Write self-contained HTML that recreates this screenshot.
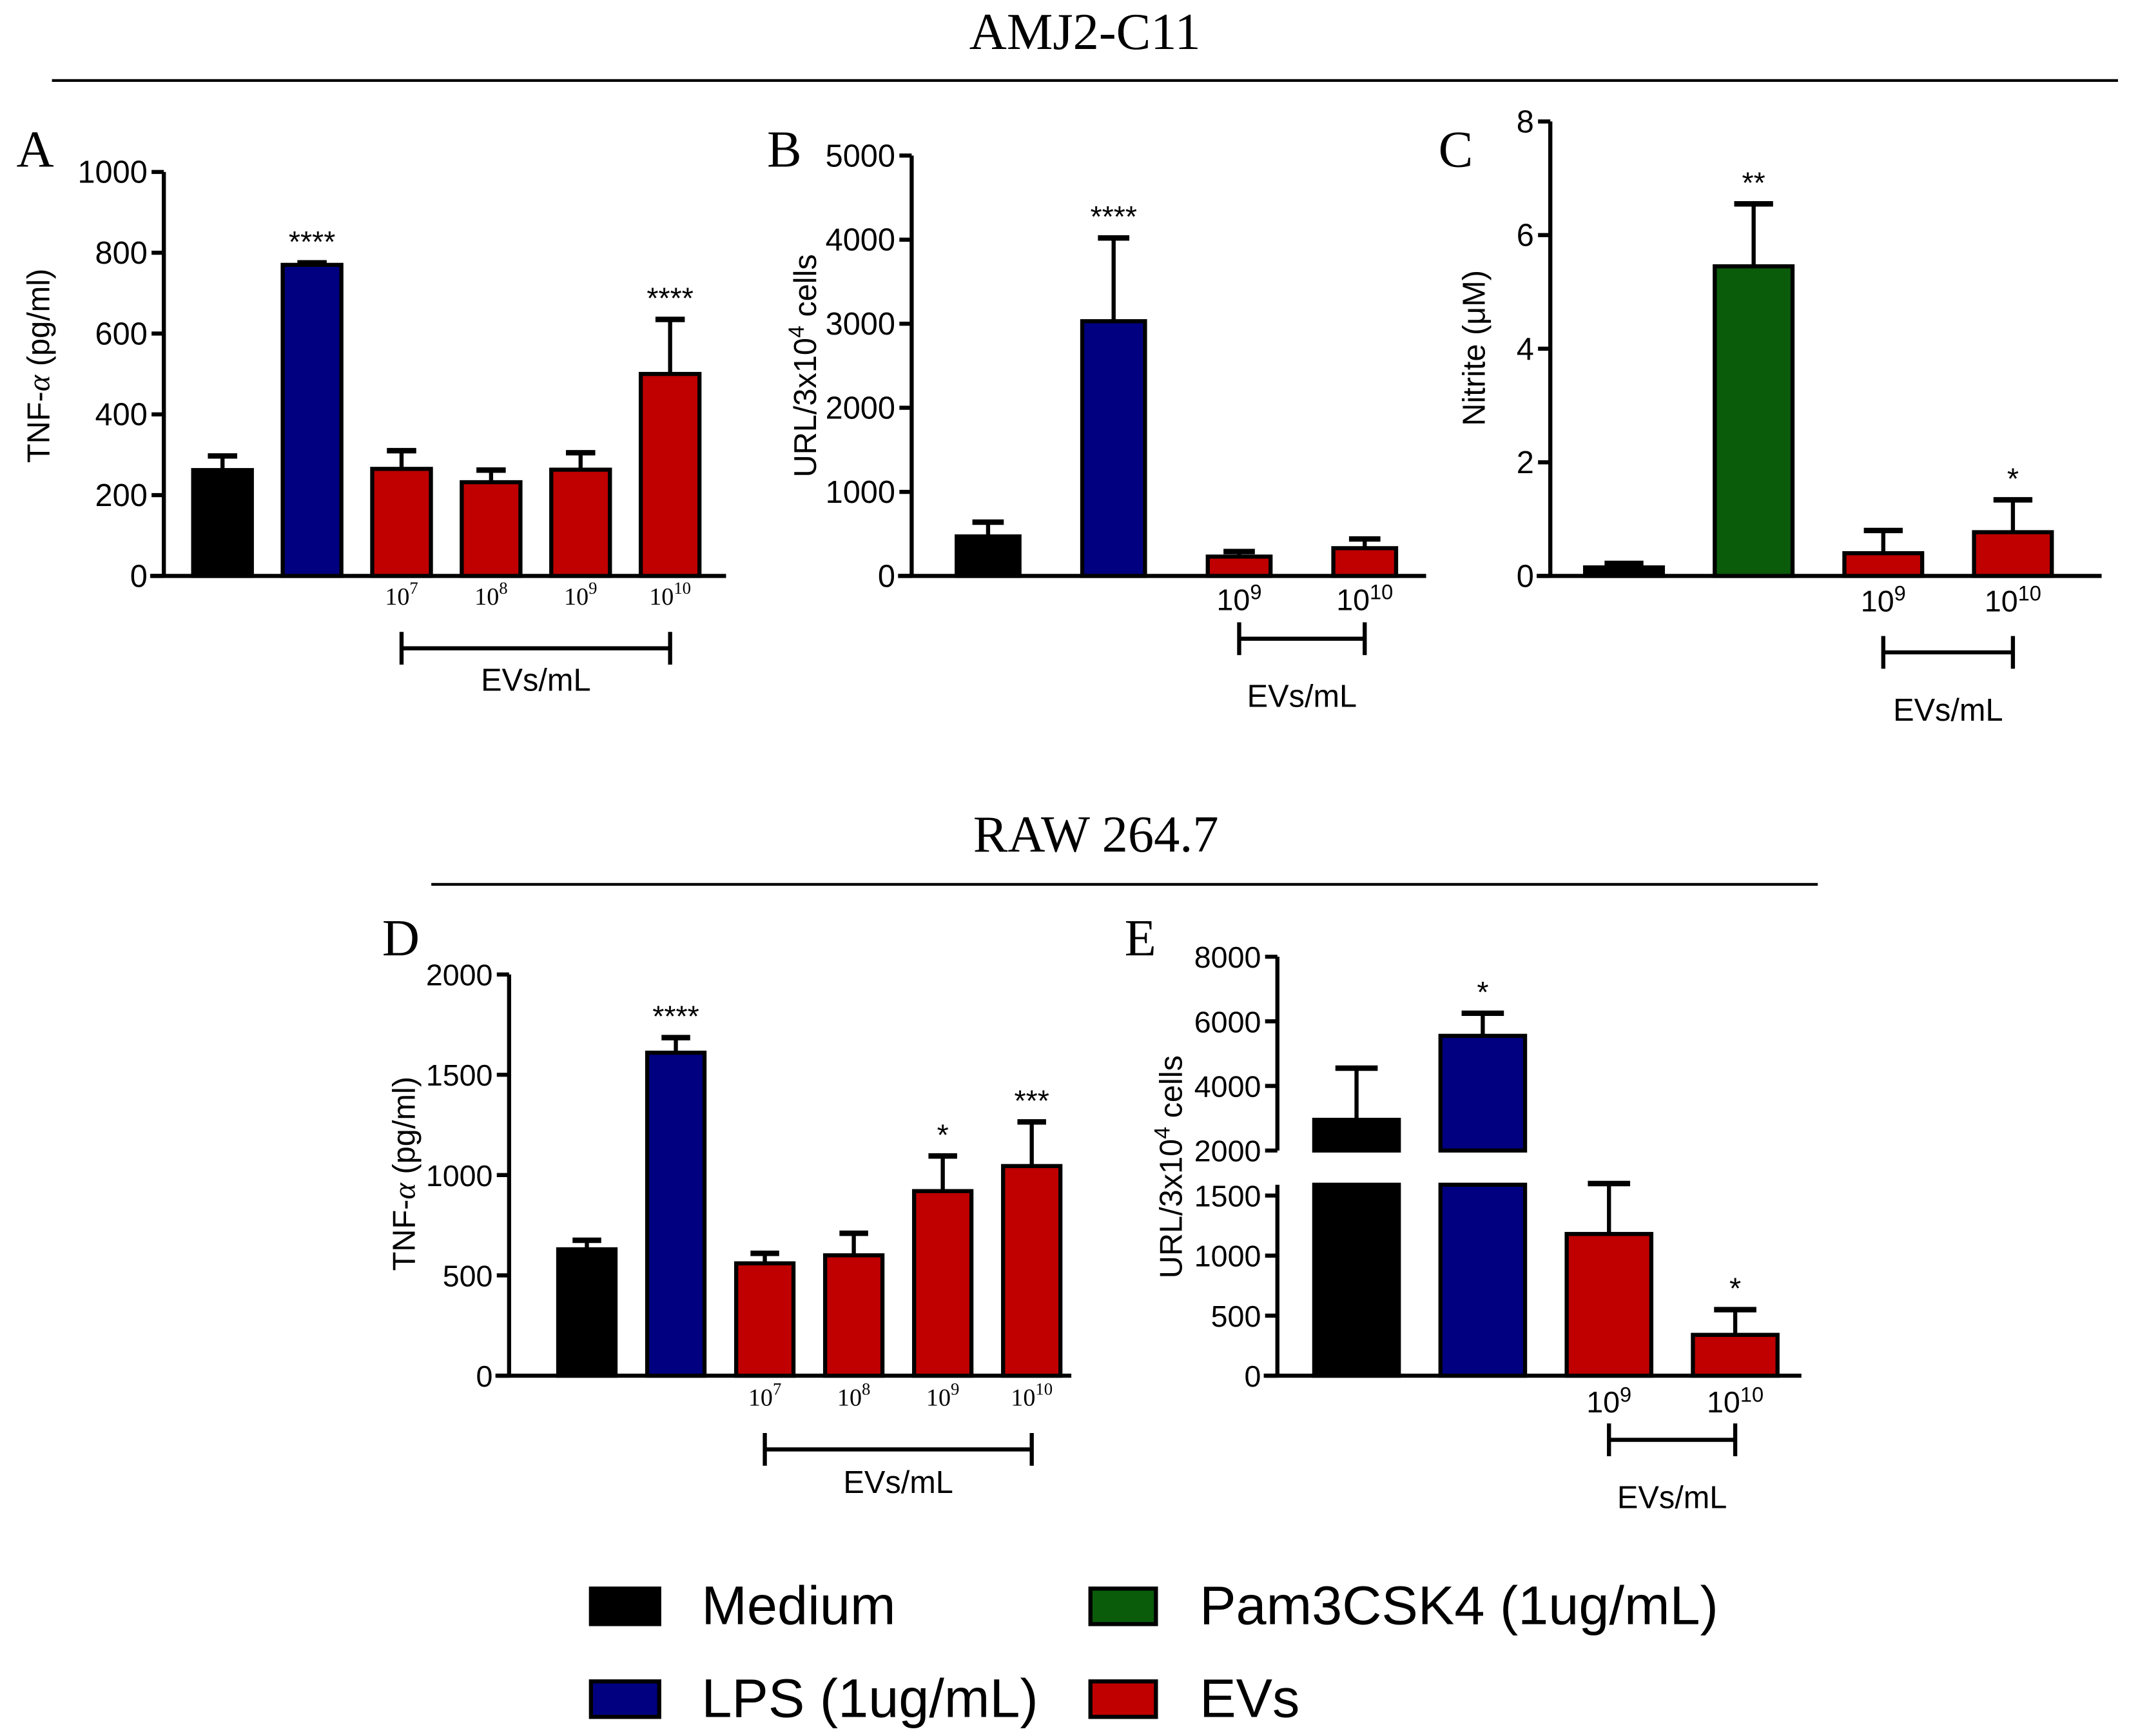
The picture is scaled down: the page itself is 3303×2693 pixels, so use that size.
<!DOCTYPE html>
<html><head><meta charset="utf-8"><style>
html,body{margin:0;padding:0;background:#fff}
svg{display:block}
text{font-family:"Liberation Sans",Arial,sans-serif}
.serif{font-family:"Liberation Serif","Times New Roman",serif}
</style></head><body>
<svg id="fig" xmlns="http://www.w3.org/2000/svg" width="3303" height="2693" viewBox="0 0 1560 1272">
<text class="serif" x="795" y="36" font-size="38" text-anchor="middle">AMJ2-C11</text>
<line x1="38" y1="59" x2="1552" y2="59" stroke="#000" stroke-width="2"/>
<text class="serif" x="803" y="624" font-size="38" text-anchor="middle">RAW 264.7</text>
<line x1="316" y1="648" x2="1332" y2="648" stroke="#000" stroke-width="2"/>
<text class="serif" x="12" y="122" font-size="38">A</text>
<text class="serif" x="562" y="122" font-size="38">B</text>
<text class="serif" x="1054" y="122" font-size="38">C</text>
<text class="serif" x="280" y="700" font-size="38">D</text>
<text class="serif" x="824" y="700" font-size="38">E</text>
<g>
<rect x="433" y="1164" width="50" height="26" fill="#000" stroke="#000" stroke-width="3"/>
<text x="514" y="1190" font-size="40">Medium</text>
<rect x="799" y="1164" width="48" height="26" fill="#0a5c0a" stroke="#000" stroke-width="3"/>
<text x="879" y="1190" font-size="40">Pam3CSK4 (1ug/mL)</text>
<rect x="433" y="1232" width="50" height="26" fill="#000080" stroke="#000" stroke-width="3"/>
<text x="514" y="1258" font-size="40">LPS (1ug/mL)</text>
<rect x="799" y="1232" width="48" height="26" fill="#c00000" stroke="#000" stroke-width="3"/>
<text x="879" y="1258" font-size="40">EVs</text>
</g>
</svg>
<script>
const A_cats=['Medium','LPS','7','8','9','10'];
const A_vals=[262,770,265,232,263,500];
const A_errs=[35,5,45,30,42,135];
const A_stars=['','****','','','','****'];
const A_ticks=[0,200,400,600,800,1000];

const B_cats=['Medium','LPS','9','10'];
const B_vals=[470,3030,230,330];
const B_errs=[170,990,60,110];
const B_stars=['','****','',''];
const B_ticks=[0,1000,2000,3000,4000,5000];

const C_cats=['Medium','Pam3','9','10'];
const C_vals=[0.15,5.45,0.4,0.77];
const C_errs=[0.07,1.1,0.4,0.57];
const C_stars=['','**','','*'];
const C_ticks=[0,2,4,6,8];

const D_cats=['Medium','LPS','7','8','9','10'];
const D_vals=[630,1610,560,600,920,1045];
const D_errs=[45,75,50,110,175,220];
const D_stars=['','****','','','*','***'];
const D_ticks=[0,500,1000,1500,2000];

const E_cats=['Medium','LPS','9','10'];
const E_vals=[2950,5550,1180,340];
const E_errs=[1600,700,420,210];
const E_stars=['','*','','*'];
const E_ticksLow=[0,500,1000,1500];
const E_ticksHigh=[2000,4000,6000,8000];

const NS='http://www.w3.org/2000/svg';
const svg=document.getElementById('fig');
function mk(tag,attrs,parent,txt){const e=document.createElementNS(NS,tag);for(const k in attrs)e.setAttribute(k,attrs[k]);if(txt!==undefined)e.textContent=txt;(parent||svg).appendChild(e);return e;}
function colorFor(c){if(c==='Medium')return '#000';if(c==='LPS')return '#000080';if(c==='Pam3')return '#0a5c0a';return '#c00000';}

function panel(p){
  const g=mk('g',{});
  
  
  const y=p.scale;
  (p.segments||[[p.min,p.max]]).forEach(s=>{
    const l=mk('line',{x1:p.ax,y1:y(s[0]),x2:p.ax,y2:y(s[1]),stroke:'#000','stroke-width':3},g);
    
    
  });
  const xa=mk('line',{x1:p.ax-10,y1:y(0),x2:p.xEnd,y2:y(0),stroke:'#000','stroke-width':3},g);
  
  
  p.ticks.forEach(t=>{
    const tl=mk('line',{x1:p.ax-9,y1:y(t),x2:p.ax,y2:y(t),stroke:'#000','stroke-width':3},g);
    
    
    const tx=mk('text',{x:p.ax-12,y:y(t)+8,'font-size':p.tfs||23,'text-anchor':'end'},g,String(t));
    
    
  });
  const yl=mk('text',{x:0,y:0,'font-size':23,'text-anchor':'middle',transform:`translate(${p.ylx},${p.yly}) rotate(-90)`},g);
  yl.innerHTML=p.ylabel;
  
  
  const labs=[];
  p.cats.forEach((c,i)=>{
    const cx=p.x0+i*p.step, w=p.bw, v=p.vals[i], e=p.errs[i];
    const col=colorFor(c);
    const top=y(v), base=y(0);
    const eTop=y(v+e);
    const el=mk('line',{x1:cx,y1:top,x2:cx,y2:eTop,stroke:'#000','stroke-width':3},g);
    
    
    const ec=mk('line',{x1:cx-w*0.25,y1:eTop,x2:cx+w*0.25,y2:eTop,stroke:'#000','stroke-width':4},g);
    
    
    if(p.brk && v>p.brk[0]){
      const r1=mk('rect',{x:cx-w/2,y:y(p.brk[1]),width:w,height:base-y(p.brk[1]),fill:col,stroke:'#000','stroke-width':3},g);
      
      
      const r2=mk('rect',{x:cx-w/2,y:top,width:w,height:y(p.brk[0])-top,fill:col,stroke:'#000','stroke-width':3},g);
      
      
    } else {
      const r=mk('rect',{x:cx-w/2,y:top,width:w,height:base-top,fill:col,stroke:'#000','stroke-width':3},g);
      
      
    }
    if(p.stars[i]){
      const st=mk('text',{x:cx,y:eTop-8,'font-size':22,'text-anchor':'middle'},g,p.stars[i]);
      
      
    }
    if(/^\d+$/.test(c)){
      labs.push(cx);
      const lt=mk('text',{x:cx,y:p.labY,'font-size':p.lfs,'text-anchor':'middle',class:p.lserif?'serif':''},g);
      lt.innerHTML='10<tspan dy="-8" font-size="'+(p.lfs*0.7)+'">'+c+'</tspan>';
      
      
    }
  });
  const bx1=labs[0], bx2=labs[labs.length-1];
  const bg=mk('g',{stroke:'#000','stroke-width':3},g);
  
  
  mk('line',{x1:bx1,y1:p.brY,x2:bx2,y2:p.brY},bg);
  mk('line',{x1:bx1,y1:p.brY-12,x2:bx1,y2:p.brY+12},bg);
  mk('line',{x1:bx2,y1:p.brY-12,x2:bx2,y2:p.brY+12},bg);
  const et=mk('text',{x:(bx1+bx2)/2,y:p.evY,'font-size':23,'text-anchor':'middle'},g,'EVs/mL');
  
  
}
function lin(v0,y0,v1,y1){return v=>y0+(v-v0)*(y1-y0)/(v1-v0);}

panel({id:'a',cats:A_cats,vals:A_vals,errs:A_errs,stars:A_stars,ticks:A_ticks,min:0,max:1000,
  scale:lin(0,422,1000,126),ax:120,xEnd:532,x0:163,step:65.6,bw:43,labY:443,lfs:18,lserif:true,brY:475,evY:506,
  ylabel:'TNF-<tspan font-family="Liberation Serif" font-style="italic">α</tspan> (pg/ml)',ylx:36,yly:268});
panel({id:'b',cats:B_cats,vals:B_vals,errs:B_errs,stars:B_stars,ticks:B_ticks,min:0,max:5000,
  scale:lin(0,422,5000,114),ax:668,xEnd:1045,x0:724,step:92,bw:46,labY:447,lfs:22,brY:468,evY:518,
  ylabel:'URL/3x10<tspan dy="-9" font-size="16">4</tspan><tspan dy="9"> cells</tspan>',ylx:598,yly:268});
panel({id:'c',cats:C_cats,vals:C_vals,errs:C_errs,stars:C_stars,ticks:C_ticks,min:0,max:8,
  scale:lin(0,422,8,89),ax:1136,xEnd:1540,x0:1190,step:95,bw:57,labY:448,lfs:22,brY:478,evY:528,
  ylabel:'Nitrite (μM)',ylx:1088,yly:255});
panel({id:'d',cats:D_cats,vals:D_vals,errs:D_errs,stars:D_stars,ticks:D_ticks,min:0,max:2000,tfs:22,
  scale:lin(0,1008,2000,714),ax:373,xEnd:785,x0:430,step:65.2,bw:42,labY:1030,lfs:18,lserif:true,brY:1062,evY:1094,
  ylabel:'TNF-<tspan font-family="Liberation Serif" font-style="italic">α</tspan> (pg/ml)',ylx:304,yly:860});
const eLow=lin(0,1008,1500,876), eHigh=lin(2000,843,8000,701);
panel({id:'e',cats:E_cats,vals:E_vals,errs:E_errs,stars:E_stars,ticks:E_ticksLow.concat(E_ticksHigh),min:0,max:8000,tfs:22,
  scale:v=>v<=1800?eLow(v):eHigh(v),segments:[[0,1590],[2000,8000]],brk:[2000,1590],
  ax:936,xEnd:1320,x0:994,step:92.5,bw:62,labY:1035,lfs:22,brY:1055,evY:1105,
  ylabel:'URL/3x10<tspan dy="-9" font-size="16">4</tspan><tspan dy="9"> cells</tspan>',ylx:866,yly:855});
</script>
</body></html>
